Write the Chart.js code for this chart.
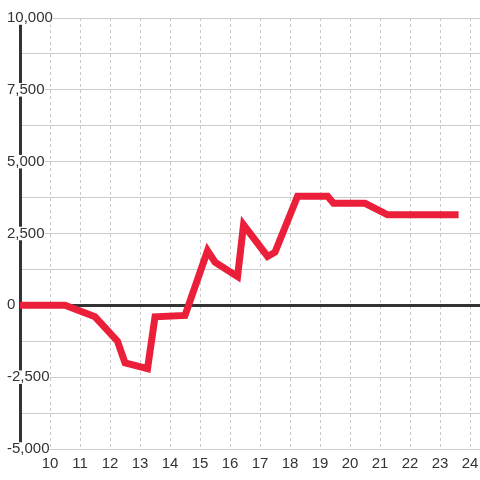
<!DOCTYPE html>
<html>
<head>
<meta charset="utf-8">
<script src="https://cdn.jsdelivr.net/npm/chart.js@4"></script>
<style>
  html, body { margin: 0; padding: 0; background: #fff; }
  #wrap { width: 480px; height: 480px; position: relative; }
</style>
</head>
<body>
<div id="wrap"><canvas id="myChart"></canvas></div>
<script>
// hours of the day and the running value at each point
const hours = [9, 10.5, 11.5, 12.25, 12.5, 13.25, 13.5, 14.5, 15.25, 15.5, 16.25, 16.45, 17.25, 17.5, 18.25, 19.25, 19.45, 20.5, 21.25, 23.5];
const values = [0, 0, -400, -1250, -2000, -2200, -400, -350, 1900, 1500, 1000, 2800, 1700, 1850, 3800, 3800, 3550, 3550, 3150, 3150];
const xTicks = [10, 11, 12, 13, 14, 15, 16, 17, 18, 19, 20, 21, 22, 23, 24];

const points = hours.map((h, i) => ({ x: h, y: values[i] }));

const ctx = document.getElementById('myChart').getContext('2d');
const chart = new Chart(ctx, {
    type: 'line',
    data: {
        datasets: [{
            data: points,
            borderColor: '#ec1f3a',
            borderWidth: 7,
            borderJoinStyle: 'miter',
            borderCapStyle: 'square',
            pointRadius: 0,
            tension: 0,
            fill: false,
        }],
    },
    options: {
        responsive: true,
        maintainAspectRatio: false,
        animation: false,
        layout: { padding: { left: 20, top: 18, right: 0, bottom: 1 } },
        plugins: {
            legend: { display: false },
            tooltip: { enabled: false },
        },
        scales: {
            x: {
                type: 'linear',
                min: 9,
                max: 24.33,
                afterBuildTicks: (scale) => {
                    scale.ticks = xTicks.map(v => ({ value: v }));
                },
                // let the last label hang to the edge instead of shrinking the plot
                afterFit: (scale) => { scale.paddingLeft = 0; scale.paddingRight = 0; },
                grid: {
                    color: '#c8c8c8',
                    lineWidth: 1,
                    drawTicks: false,
                },
                border: { display: false, dash: [3, 3] },
                ticks: {
                    font: { family: 'Liberation Sans', size: 15 },
                    color: '#333',
                    padding: 6,
                    maxRotation: 0,
                },
            },
            y: {
                min: -5000,
                max: 10000,
                position: 'left',
                afterFit: (scale) => { scale.width = 0; },
                border: { display: true, color: '#333', width: 3 },
                grid: {
                    drawTicks: false,
                    color: (c) => c.tick && c.tick.value === 0 ? '#333' : '#cccccc',
                    lineWidth: (c) => c.tick && c.tick.value === 0 ? 3 : 1,
                },
                ticks: {
                    stepSize: 1250,
                    mirror: true,
                    padding: -13,
                    font: { family: 'Liberation Sans', size: 15, lineHeight: 0.9 },
                    color: '#333',
                    showLabelBackdrop: true,
                    backdropColor: '#fff',
                    backdropPadding: 0,
                    callback: (v) => v % 2500 === 0 ? v.toLocaleString('en-US') : '',
                },
            },
        },
    },
});
</script>
</body>
</html>
